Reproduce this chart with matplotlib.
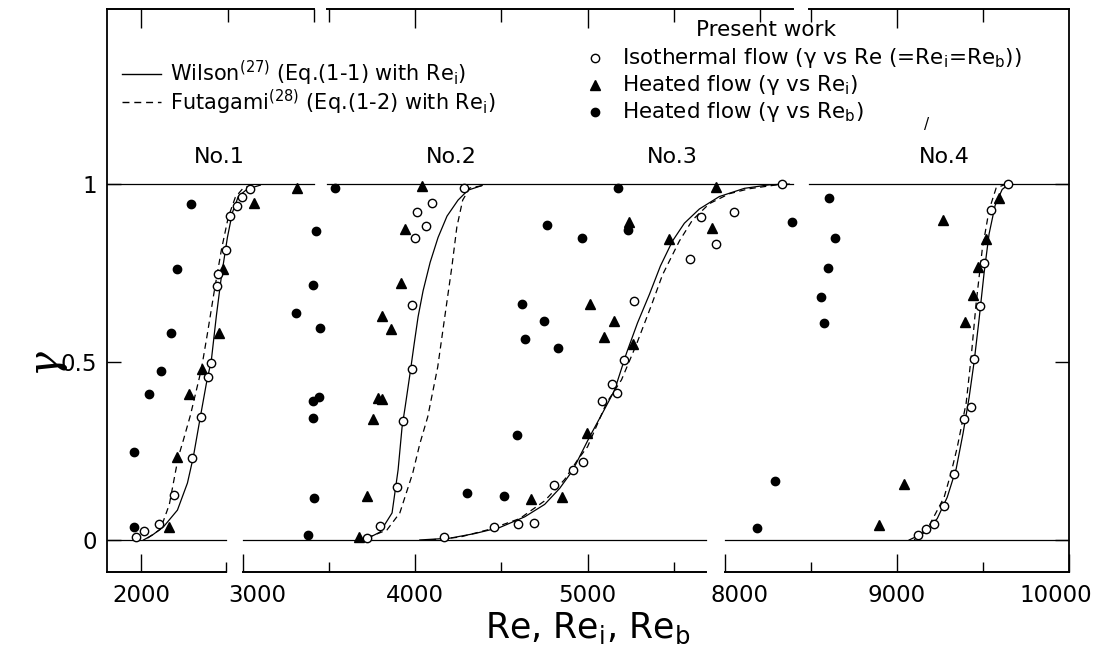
import matplotlib.pyplot as plt
from matplotlib.transforms import ScaledTranslation

plt.rcParams['font.family'] = ['DejaVu Sans']
plt.rcParams['mathtext.fontset'] = 'dejavusans'

# ---- No.1 ----
wil1_re = [2012, 2064, 2128, 2209, 2267, 2301, 2342, 2377, 2406, 2435, 2464, 2499, 2528, 2562, 2614, 2690]
wil1_g = [0.0, 0.014, 0.037, 0.084, 0.16, 0.233, 0.346, 0.44, 0.506, 0.63, 0.74, 0.85, 0.92, 0.965, 0.986, 0.997]
fut1_re = [2035, 2110, 2162, 2197, 2214, 2243, 2284, 2348, 2383, 2423, 2464, 2504, 2545, 2591, 2661]
fut1_g = [0.005, 0.03, 0.10, 0.19, 0.233, 0.28, 0.35, 0.48, 0.58, 0.70, 0.815, 0.907, 0.963, 0.989, 0.998]
iso1_re = [1971, 2017, 2099, 2191, 2296, 2348, 2388, 2406, 2438, 2444, 2493, 2516, 2557, 2585, 2632]
iso1_g = [0.008, 0.025, 0.045, 0.126, 0.230, 0.346, 0.458, 0.497, 0.713, 0.747, 0.815, 0.910, 0.938, 0.963, 0.986]
hti1_re = [2162, 2209, 2278, 2354, 2452, 2475, 2655, 2904]
hti1_g = [0.037, 0.233, 0.410, 0.480, 0.581, 0.761, 0.947, 0.989]
htb1_re = [1959, 1954, 2046, 2116, 2174, 2209, 2290]
htb1_g = [0.037, 0.247, 0.410, 0.475, 0.581, 0.761, 0.944]

# ---- No.2 ----
wil2_re = [3700, 3737, 3795, 3865, 3900, 3923, 3941, 3970, 3993, 4016, 4045, 4086, 4132, 4184, 4248, 4306, 4388]
wil2_g = [0.0, 0.008, 0.022, 0.076, 0.197, 0.317, 0.374, 0.47, 0.55, 0.627, 0.70, 0.78, 0.85, 0.91, 0.955, 0.983, 0.996]
fut2_re = [3719, 3835, 3910, 3985, 4026, 4072, 4130, 4171, 4212, 4241, 4275, 4316, 4403]
fut2_g = [0.006, 0.028, 0.076, 0.188, 0.27, 0.346, 0.486, 0.627, 0.767, 0.879, 0.955, 0.989, 0.997]
iso2_re = [3719, 3794, 3893, 3928, 3980, 3980, 3997, 4009, 4061, 4096, 4281]
iso2_g = [0.006, 0.039, 0.149, 0.334, 0.480, 0.660, 0.848, 0.921, 0.882, 0.947, 0.989]
hti2_re = [3672, 3719, 3754, 3783, 3806, 3806, 3858, 3916, 3939, 4038]
hti2_g = [0.008, 0.124, 0.340, 0.399, 0.396, 0.629, 0.593, 0.722, 0.874, 0.994]
htb2_re = [3377, 3412, 3406, 3406, 3441, 3307, 3446, 3406, 3423, 3533]
htb2_g = [0.014, 0.118, 0.343, 0.390, 0.402, 0.638, 0.596, 0.716, 0.868, 0.989]

# ---- No.3 ----
wil3_re = [4026, 4200, 4345, 4490, 4635, 4751, 4838, 4913, 5012, 5087, 5156, 5226, 5290, 5359,
           5423, 5493, 5562, 5649, 5765, 5910, 6055, 6171]
wil3_g = [0.0, 0.005, 0.018, 0.035, 0.065, 0.10, 0.145, 0.195, 0.29, 0.357, 0.42, 0.525, 0.61, 0.69,
          0.77, 0.84, 0.89, 0.93, 0.965, 0.988, 0.998, 1.0]
fut3_re = [4084, 4258, 4432, 4606, 4751, 4867, 4942, 5000, 5110, 5197, 5284, 5371, 5435, 5533,
           5609, 5707, 5823, 5939, 6130]
fut3_g = [0.0, 0.008, 0.03, 0.06, 0.11, 0.17, 0.225, 0.262, 0.385, 0.45, 0.55, 0.66, 0.745, 0.84,
          0.899, 0.945, 0.973, 0.987, 1.0]
iso3_re = [4165, 4455, 4594, 4687, 4803, 4913, 4971, 5081, 5139, 5168, 5214, 5267, 5597, 5661, 5748, 5852, 6130]
iso3_g = [0.008, 0.037, 0.045, 0.048, 0.154, 0.197, 0.219, 0.390, 0.438, 0.413, 0.506, 0.671, 0.789,
          0.907, 0.831, 0.921, 1.0]
hti3_re = [4670, 4849, 4994, 5017, 5093, 5151, 5238, 5261, 5475, 5725, 5748]
hti3_g = [0.115, 0.121, 0.300, 0.663, 0.570, 0.615, 0.893, 0.551, 0.846, 0.876, 0.992]
htb3_re = [4299, 4513, 4588, 4617, 4635, 4745, 4762, 4826, 4965, 5174, 5232]
htb3_g = [0.132, 0.124, 0.295, 0.663, 0.565, 0.615, 0.885, 0.539, 0.848, 0.989, 0.871]

# ---- No.4 ----
wil4_re = [9072, 9159, 9235, 9293, 9345, 9385, 9420, 9449, 9478, 9507, 9536, 9571, 9612, 9652]
wil4_g = [0.0, 0.02, 0.06, 0.12, 0.2, 0.3, 0.4, 0.5, 0.62, 0.75, 0.86, 0.94, 0.985, 1.0]
fut4_re = [9101, 9188, 9275, 9316, 9351, 9403, 9432, 9461, 9496, 9536, 9577, 9635]
fut4_g = [0.0, 0.04, 0.12, 0.19, 0.26, 0.385, 0.514, 0.666, 0.815, 0.927, 0.989, 1.0]
iso4_re = [9125, 9171, 9217, 9275, 9333, 9391, 9432, 9449, 9484, 9507, 9548, 9646]
iso4_g = [0.014, 0.031, 0.045, 0.096, 0.185, 0.340, 0.374, 0.508, 0.657, 0.778, 0.927, 1.0]
hti4_re = [8899, 9043, 9270, 9397, 9443, 9472, 9519, 9594]
hti4_g = [0.042, 0.157, 0.899, 0.612, 0.688, 0.767, 0.846, 0.961]
htb4_re = [8191, 8296, 8394, 8562, 8580, 8603, 8609, 8643]
htb4_g = [0.034, 0.166, 0.893, 0.683, 0.610, 0.764, 0.961, 0.848]

# broken x axis: three panels with the same Re/px scale but shifted origins
bot_major = [[2000], [3000, 4000, 5000], [8000, 9000, 10000]]
bot_minor = [[2490], [3500, 4500, 5500], [8500, 9500]]
top_major = [[2000], [4000, 5000], [9000]]
top_minor = [[2500, 3000], [3500, 4500, 5500, 6000], [8500, 9500]]
bot_seg = [(1800, 2490), (3000, 5690), (8000, 10000)]
top_seg = [(1800, 3000), (3490, 6190), (8490, 10000)]
xlims = [(1800, 7385), (2210, 7795), (4415, 10000)]

groups = [
    [(wil1_re, wil1_g, fut1_re, fut1_g, iso1_re, iso1_g, hti1_re, hti1_g, htb1_re, htb1_g)],
    [(wil2_re, wil2_g, fut2_re, fut2_g, iso2_re, iso2_g, hti2_re, hti2_g, htb2_re, htb2_g),
     (wil3_re, wil3_g, fut3_re, fut3_g, iso3_re, iso3_g, hti3_re, hti3_g, htb3_re, htb3_g)],
    [(wil4_re, wil4_g, fut4_re, fut4_g, iso4_re, iso4_g, hti4_re, hti4_g, htb4_re, htb4_g)],
]
case_labels = [[('No.1', 2450)], [('No.2', 4208), ('No.3', 5492)], [('No.4', 9278)]]

fig = plt.figure(figsize=(11.02, 6.51), dpi=100)
rect = [107 / 1102, 79 / 651, 962 / 1102, 563 / 651]
axA = fig.add_axes(rect)
axB = fig.add_axes(rect, sharey=axA)
axC = fig.add_axes(rect, sharey=axA)
axes = [axA, axB, axC]

axA.set_ylim(-0.09, 1.492)
axA.set_yticks([0, 0.5, 1], labels=['0', '0.5', '1'])
axA.tick_params(axis='y', direction='in', length=10, width=1, left=True, right=True,
                labelsize=16.5, pad=7)
for side in ['top', 'bottom']:
    axA.spines[side].set_visible(False)
for side in ['left', 'right']:
    axA.spines[side].set_linewidth(1.3)

lk = dict(color='black', lw=0.9)
for i, ax in enumerate(axes):
    ax.set_xlim(*xlims[i])
    if ax is not axA:
        ax.patch.set_visible(False)
        ax.yaxis.set_visible(False)
        for s in ax.spines.values():
            s.set_visible(False)

    # broken frame and the gamma = 0 / 1 reference lines
    ax.plot(bot_seg[i], [0, 0], color='black', lw=1.4, transform=ax.get_xaxis_transform(), clip_on=False)
    ax.plot(top_seg[i], [1, 1], color='black', lw=1.4, transform=ax.get_xaxis_transform(), clip_on=False)
    ax.plot(bot_seg[i], [0, 0], **lk)
    ax.plot(top_seg[i], [1, 1], **lk)

    ax.set_xticks(bot_major[i], labels=[str(v) for v in bot_major[i]])
    ax.set_xticks(bot_minor[i], minor=True)
    ax.tick_params(axis='x', which='both', direction='in', width=1, labelsize=16.5, pad=9)
    ax.tick_params(axis='x', which='major', length=13)
    ax.tick_params(axis='x', which='minor', length=7)

    sec = ax.secondary_xaxis('top')
    sec.set_xticks(top_major[i])
    sec.set_xticks(top_minor[i], minor=True)
    sec.tick_params(which='both', direction='in', width=1, labeltop=False)
    sec.tick_params(which='major', length=14)
    sec.tick_params(which='minor', length=9)
    for s in sec.spines.values():
        s.set_visible(False)

    for (wr, wg, fr, fg, ir, ig, tr, tg, br, bg) in groups[i]:
        ax.plot(wr, wg, '-', **lk)
        ax.plot(fr, fg, '--', dashes=(5, 3.5), **lk)
        ax.plot(br, bg, ls='none', marker='o', ms=6, color='black')
        ax.plot(tr, tg, ls='none', marker='^', ms=7.5, color='black')
        ax.plot(ir, ig, ls='none', marker='o', ms=6, mfc='white', mec='black', mew=1)

    for name, xpos in case_labels[i]:
        ax.text(xpos, 1.076, name, ha='center', va='center', fontsize=16)

# tick labels sitting next to the axis breaks are nudged sideways
def nudge(ax, idx, dx_px):
    lab = ax.xaxis.get_major_ticks()[idx].label1
    lab.set_transform(lab.get_transform() + ScaledTranslation(dx_px / 100, 0, fig.dpi_scale_trans))

nudge(axB, 0, 14)
nudge(axC, 0, 15)
nudge(axC, 2, -13)

axA.set_xlabel('Re, Re$_\\mathrm{i}$, Re$_\\mathrm{b}$', fontsize=25, labelpad=2)
fig.text(43 / 1102, 1 - 360 / 651, 'γ', rotation=90, ha='center', va='center',
         fontsize=30, family='DejaVu Serif', style='italic')

# legend, written out by hand
ta = axA.transAxes
axA.plot([0.0156, 0.0561], [0.885, 0.885], transform=ta, color='black', lw=1)
axA.text(0.0655, 0.885, 'Wilson$^{(27)}$ (Eq.(1-1) with Re$_\\mathrm{i}$)', transform=ta,
         va='center', fontsize=15)
axA.plot([0.0156, 0.0561], [0.834, 0.834], transform=ta, color='black', lw=1, ls='--', dashes=(5, 3.5))
axA.text(0.0655, 0.834, 'Futagami$^{(28)}$ (Eq.(1-2) with Re$_\\mathrm{i}$)', transform=ta,
         va='center', fontsize=15)

axA.text(0.685, 0.963, 'Present work', transform=ta, ha='center', va='center', fontsize=15.5)
axA.plot(0.507, 0.913, transform=ta, marker='o', ms=6, mfc='white', mec='black', mew=1, clip_on=False)
axA.text(0.535, 0.913, 'Isothermal flow (γ vs Re (=Re$_\\mathrm{i}$=Re$_\\mathrm{b}$))', transform=ta,
         va='center', fontsize=15.5)
axA.plot(0.507, 0.865, transform=ta, marker='^', ms=7.5, color='black', clip_on=False)
axA.text(0.535, 0.865, 'Heated flow (γ vs Re$_\\mathrm{i}$)', transform=ta, va='center', fontsize=15.5)
axA.plot(0.507, 0.817, transform=ta, marker='o', ms=6, color='black', clip_on=False)
axA.text(0.535, 0.817, 'Heated flow (γ vs Re$_\\mathrm{b}$)', transform=ta, va='center', fontsize=15.5)
axA.text(0.852, 0.794, '/', transform=ta, ha='center', va='center', fontsize=11)

fig.savefig('out.png', dpi=100)
